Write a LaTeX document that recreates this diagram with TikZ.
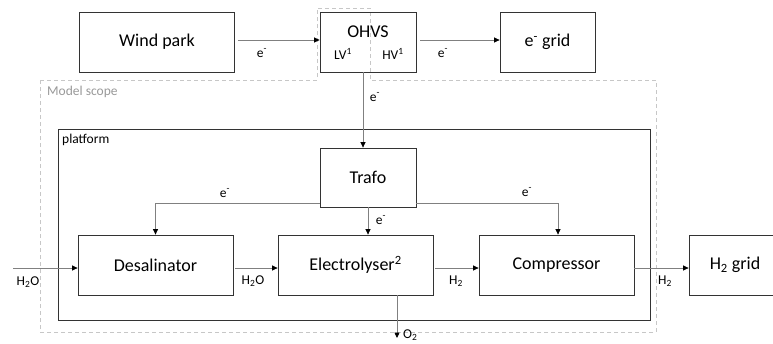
\documentclass[tikz,border=0pt]{standalone}
\usepackage{fontspec}
\setmainfont{Carlito}
\usetikzlibrary{arrows.meta,calc}

\begin{document}
\begin{tikzpicture}[x=1pt, y=-1pt,
  box/.style={draw=black!80, line width=0.8pt, minimum width=155pt, minimum height=60pt, inner sep=0pt, font=\fontsize{18}{21}\selectfont},
  lbl/.style={inner sep=1pt, font=\fontsize{13.5}{16}\selectfont},
  ln/.style={draw=black!50, line width=0.7pt, -{Triangle[length=5.5pt,width=5pt,color=black]}},
  scopeline/.style={draw=black!22, line width=0.8pt, dash pattern=on 4pt off 3pt}
]
\useasboundingbox[fill=white] (0,0) rectangle (773,343);
\draw[scopeline] (40,80) -- (317,80) -- (317,8) -- (370,8) -- (370,80) -- (656,80) -- (656,332) -- (40,332) -- cycle;
\node[lbl, anchor=west, text=black!40] (scp) at (46,92) {Model scope};
\node[box, minimum width=592pt, minimum height=191pt] (plat) at (354,224.5) {};
\node[lbl, anchor=west] (platl) at (61,140) {platform};
\node[box] (wind) at (157,42) {Wind park};
\node[box, minimum width=96pt] (ohvs) at (368,42) {};
\node[box, draw=none] (ohvst) at (368,32) {OHVS};
\node[lbl] (lv) at (343,54) {LV\textsuperscript{1}};
\node[lbl] (hv) at (393,54) {HV\textsuperscript{1}};
\node[box, minimum width=95pt] (egrid) at (547.5,42) {e\textsuperscript{-} grid};
\node[box, minimum width=96pt, minimum height=59pt] (trafo) at (368,177.5) {Trafo};
\node[box] (desal) at (155.5,265) {Desalinator};
\node[box] (elec) at (355.5,265) {Electrolyser\textsuperscript{2}};
\node[box] (comp) at (556.5,265) {Compressor};
\node[box, minimum width=92pt] (hgrid) at (735,265) {H\textsubscript{2} grid};
\coordinate (win) at (13,268);
\coordinate (oout) at (397,338);
\draw[ln] ($(wind.east)+(3,-2)$) -- ($(ohvs.west)+(0,-2)$);
\draw[ln] ($(ohvs.east)+(4,-2)$) -- ($(egrid.west)+(0,-2)$);
\draw[ln] ($(ohvs.south)+(-5,0)$) -- ($(trafo.north)+(-5,0)$);
\draw[ln] ($(trafo.south west)+(0,-4)$) -| (desal.north);
\draw[ln] ($(trafo.south east)+(0,-4)$) -| ($(comp.north)+(1.5,0)$);
\draw[ln] (trafo.south) -- (trafo.south |- elec.north);
\draw[ln] (win) -- ($(desal.west)+(0,3)$);
\draw[ln] ($(desal.east)+(2,3)$) -- ($(elec.west)+(0,3)$);
\draw[ln] ($(elec.east)+(2,3)$) -- ($(comp.west)+(0,3)$);
\draw[ln] ($(comp.east)+(0,3)$) -- ($(hgrid.west)+(0,3)$);
\draw[ln] (elec.south -| oout) -- (oout);
\node[lbl] (e1) at (262,53) {e\textsuperscript{-}};
\node[lbl] (e2) at (443,53) {e\textsuperscript{-}};
\node[lbl] (e3) at (375,97) {e\textsuperscript{-}};
\node[lbl] (e4) at (225,193) {e\textsuperscript{-}};
\node[lbl] (e5) at (381,220) {e\textsuperscript{-}};
\node[lbl] (e6) at (527,192) {e\textsuperscript{-}};
\node[lbl] (w1) at (28,282) {H\textsubscript{2}O};
\node[lbl] (w2) at (253,281) {H\textsubscript{2}O};
\node[lbl] (h1) at (456,281) {H\textsubscript{2}};
\node[lbl] (h2) at (665,281) {H\textsubscript{2}};
\node[lbl, anchor=west] (o2) at (402,335) {O\textsubscript{2}};
\end{tikzpicture}
\end{document}
